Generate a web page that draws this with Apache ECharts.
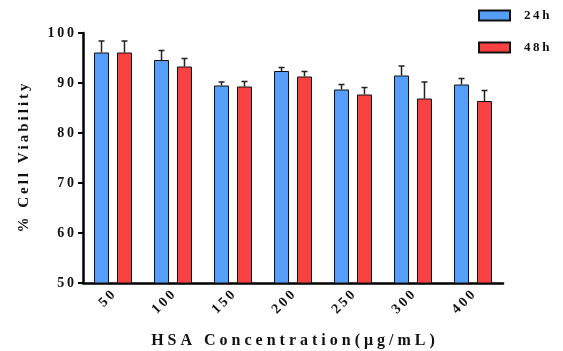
<!DOCTYPE html>
<html>
<head>
<meta charset="utf-8">
<script src="https://cdn.jsdelivr.net/npm/echarts@6/dist/echarts.min.js"></script>
<style>
html, body { margin: 0; padding: 0; background: #fff; }
#main { width: 563px; height: 351px; }
</style>
</head>
<body>
<div id="main"></div>
<script>
var doses = ['50', '100', '150', '200', '250', '300', '400'];
var mean24 = [96.1, 94.6, 89.5, 92.4, 88.7, 91.5, 89.7];
var sd24 = [2.3, 1.9, 0.7, 0.7, 1.0, 1.9, 1.2];
var mean48 = [96.1, 93.3, 89.3, 91.3, 87.7, 86.9, 86.4];
var sd48 = [2.3, 1.6, 1.0, 1.0, 1.4, 3.3, 2.1];
var yTicks = [50, 60, 70, 80, 90, 100];

var chart = echarts.init(document.getElementById('main'));
var font = '"Liberation Serif", "Times New Roman", serif';

// the original prints its labels letter-spaced, so put thin spaces between letters
function spaced(s) {
	return String(s).split('').join('\u2009');
}

// error bar drawn up from the bar top, shifted left/right to sit on its bar
function errBar(sds, side) {
	return function (params, api) {
		var i = api.value(0);
		var top = api.coord([i, api.value(1)]);
		var end = api.coord([i, api.value(1) + sds[i]]);
		var band = api.size([1, 0])[0];
		var bw = band * 0.25;
		var x = top[0] + side * (bw + bw * 0.53) / 2;
		var style = { stroke: '#222', lineWidth: 1.5 };
		return {
			type: 'group',
			children: [
				{ type: 'line', shape: { x1: x, y1: top[1], x2: x, y2: end[1] }, style: style },
				{ type: 'line', shape: { x1: x - 3, y1: end[1], x2: x + 3, y2: end[1] }, style: style }
			]
		};
	};
}

var option = {
	animation: false,
	textStyle: { fontFamily: font },
	legend: {
		orient: 'vertical',
		left: 478,
		top: 9,
		padding: 0,
		icon: 'rect',
		itemWidth: 31,
		itemHeight: 10,
		itemGap: 19,
		formatter: spaced,
		textStyle: { fontFamily: font, fontWeight: 'bold', fontSize: 13, color: '#111', padding: [0, 0, 0, 9] },
		data: ['24h', '48h']
	},
	grid: { left: 83, right: 60, top: 33, bottom: 68, outerBoundsMode: 'none' },
	xAxis: {
		type: 'category',
		data: doses,
		name: 'H S A   C o n c e n t r a t i o n ( μ g / m L )',
		nameLocation: 'middle',
		nameGap: 50,
		nameTextStyle: { fontFamily: font, fontWeight: 'bold', fontSize: 16, color: '#111' },
		axisLine: { lineStyle: { color: '#000', width: 2.5 } },
		axisTick: { alignWithLabel: true, length: 5, lineStyle: { color: '#000', width: 2 } },
		axisLabel: { rotate: 45, margin: 10, formatter: spaced, fontFamily: font, fontWeight: 'bold', fontSize: 14, color: '#111' }
	},
	yAxis: {
		type: 'value',
		min: yTicks[0],
		max: yTicks[yTicks.length - 1],
		interval: 10,
		name: spaced('% Cell Viability'),
		nameLocation: 'middle',
		nameGap: 51,
		nameTextStyle: { fontFamily: font, fontWeight: 'bold', fontSize: 15, color: '#111' },
		axisLine: { show: true, lineStyle: { color: '#000', width: 2.5 } },
		axisTick: { show: true, length: 5, lineStyle: { color: '#000', width: 2 } },
		axisLabel: { margin: 9, formatter: spaced, fontFamily: font, fontWeight: 'bold', fontSize: 14, color: '#111' },
		splitLine: { show: false }
	},
	series: [{
		name: '24h',
		type: 'bar',
		barWidth: '25%',
		barGap: '53%',
		itemStyle: { color: '#559ffb', borderColor: '#111', borderWidth: 1 },
		data: mean24
	}, {
		name: '48h',
		type: 'bar',
		barWidth: '25%',
		itemStyle: { color: '#f84242', borderColor: '#111', borderWidth: 1 },
		data: mean48
	}, {
		type: 'custom',
		renderItem: errBar(sd24, -1),
		data: mean24.map(function (v, i) { return [i, v]; }),
		z: 3
	}, {
		type: 'custom',
		renderItem: errBar(sd48, 1),
		data: mean48.map(function (v, i) { return [i, v]; }),
		z: 3
	}]
};
chart.setOption(option);
</script>
</body>
</html>
